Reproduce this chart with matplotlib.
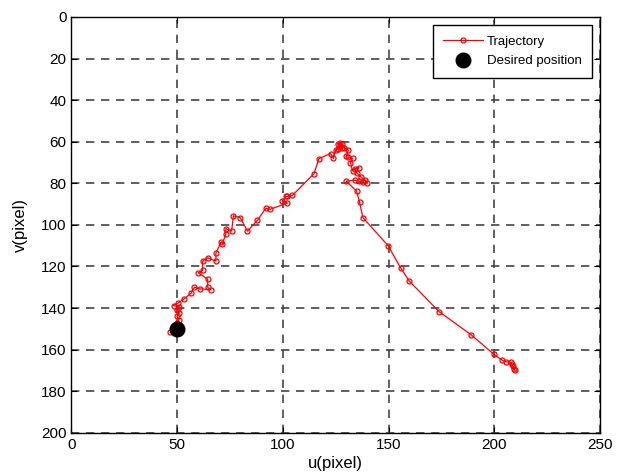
import matplotlib
matplotlib.use('Agg')
import matplotlib.pyplot as plt   # graficas

# Trayectoria de la caracteristica en el plano imagen (u, v) en pixeles
u_traj = [209.7, 209.4, 208.8, 208.2, 207.9, 205.5, 203.8, 199.9, 189.0, 173.9,
          159.8, 155.7, 149.8, 137.9, 136.3, 134.9, 130.0, 134.0, 136.0, 138.0,
          140.0, 139.0, 137.0, 135.0, 134.0, 136.0, 133.0, 132.0, 133.0, 131.0,
          130.0, 131.0, 129.0, 128.0, 127.0, 126.0, 127.0, 128.0, 126.0, 125.0,
          123.9, 122.6, 117.1, 114.8, 104.6, 102.2, 101.4, 99.8, 102.2, 94.0,
          92.0, 88.0, 83.3, 79.9, 76.7, 75.8, 73.1, 73.1, 71.5, 70.8,
          68.4, 68.4, 64.5, 62.1, 62.1, 60.0, 64.5, 64.5, 66.0, 61.0,
          58.2, 56.6, 53.2, 50.3, 48.4, 51.0, 50.0, 51.0, 50.0, 51.0,
          50.0, 46.8]
v_traj = [170.0, 169.3, 168.0, 167.0, 166.1, 165.8, 165.1, 162.3, 152.8, 141.7,
          127.0, 120.6, 110.0, 96.5, 89.0, 83.7, 79.0, 78.5, 79.0, 79.5,
          80.0, 78.5, 77.0, 75.0, 73.0, 72.5, 74.0, 70.0, 68.0, 67.5,
          67.0, 64.0, 63.0, 61.0, 60.5, 61.0, 62.0, 63.0, 63.5, 64.0,
          68.0, 65.7, 68.1, 75.3, 85.8, 86.3, 86.3, 88.5, 89.5, 92.5,
          92.0, 97.8, 103.0, 96.5, 95.6, 103.0, 101.8, 104.3, 109.0, 108.3,
          113.6, 117.4, 115.8, 117.4, 121.9, 123.0, 126.1, 130.0, 131.1, 130.8,
          130.0, 132.9, 135.7, 137.7, 138.8, 139.5, 141.0, 142.5, 144.0, 145.5,
          147.0, 151.7]

# Posicion deseada
u_des = [50]
v_des = [150]

plt.rcParams['font.family'] = ['Liberation Sans', 'DejaVu Sans']

fig = plt.figure(figsize=(6.25, 4.72), dpi=100)
ax = fig.add_axes([0.114, 0.083, 0.846, 0.881])

ax.plot(u_traj, v_traj, color='red', lw=0.9, marker='o', ms=3.6,
        mfc='none', mec='red', mew=0.9, label='Trajectory')
ax.plot(u_des, v_des, 'o', color='black', ms=10.5, label='Desired position')

ax.set_xlim(0, 250)
ax.set_ylim(0, 200)
ax.invert_yaxis()
ax.set_xticks(range(0, 251, 50))
ax.set_yticks(range(0, 201, 20))
ax.tick_params(direction='in', labelsize=11, length=4, top=True, right=True)
ax.grid(True, color='#444444', ls=(0, (5, 4)), lw=1.2)
for s in ax.spines.values():
    s.set_linewidth(1.0)

ax.set_xlabel('u(pixel)', fontsize=12, labelpad=3)
ax.set_ylabel('v(pixel)', fontsize=12, labelpad=9)

leg = ax.legend(loc='upper right', fontsize=9.5, fancybox=False, framealpha=1,
                edgecolor='black', borderaxespad=0.6, borderpad=0.8,
                handlelength=3.0, handletextpad=0.3, labelspacing=0.55)
leg.get_frame().set_linewidth(1.0)

fig.savefig('out.png', dpi=100)
